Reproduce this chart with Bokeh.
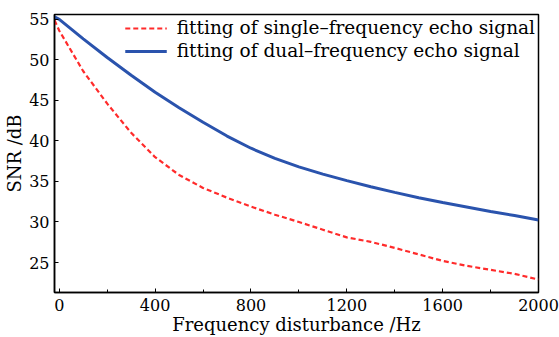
from bokeh.plotting import figure
from bokeh.models import Range1d, FixedTicker, Legend, LegendItem
from bokeh.embed import file_html
from bokeh.resources import INLINE

freq = [-20, 0, 100, 200, 300, 400, 500, 600, 700, 800, 900, 1000, 1100, 1200,
        1300, 1400, 1500, 1600, 1700, 1800, 1900, 2000]
snr_single = [54.9, 53.6, 48.6, 44.6, 41.0, 38.0, 35.8, 34.2, 33.0, 31.9, 30.9, 30.0,
              29.05, 28.1, 27.55, 26.8, 26.0, 25.2, 24.6, 24.1, 23.6, 22.9]
snr_dual = [55.3, 55.0, 52.6, 50.3, 48.1, 46.0, 44.1, 42.3, 40.6, 39.1, 37.85, 36.8,
            35.9, 35.1, 34.35, 33.65, 33.0, 32.4, 31.85, 31.3, 30.8, 30.25]
x_ticks = [0, 400, 800, 1200, 1600, 2000]
x_minor = [0, 200, 400, 600, 800, 1000, 1200, 1400, 1600, 1800, 2000]
y_ticks = [25, 30, 35, 40, 45, 50, 55]

FONT = "DejaVu Serif"
FS_TICK = "16px"
FS_TEXT = "18px"

p = figure(width=559, height=337, output_backend="svg", toolbar_location=None,
           x_range=Range1d(-20, 2000), y_range=Range1d(21.3, 55.6),
           min_border_left=54, min_border_right=21, min_border_top=14, min_border_bottom=45)
p.frame_width = 484
p.frame_height = 278
p.grid.visible = False
p.outline_line_color = "black"
p.outline_line_width = 1.5
p.background_fill_color = "white"
p.border_fill_color = "white"

r1 = p.line(freq, snr_single, line_color="#ff2b2b", line_width=2.2, line_dash="5 3")
r2 = p.line(freq, snr_dual, line_color="#2a53ad", line_width=3)

legend = Legend(items=[LegendItem(label="fitting of single\u2013frequency echo signal", renderers=[r1]),
                       LegendItem(label="fitting of dual\u2013frequency echo signal", renderers=[r2])],
                location="top_right", border_line_color=None, background_fill_alpha=0,
                label_text_font=FONT, label_text_font_size="18.5px", label_text_color="black",
                glyph_width=42, glyph_height=18, spacing=2, padding=0, margin=3,
                label_standoff=10, label_height=18)
p.add_layout(legend)

xa = p.xaxis[0]
xa.ticker = FixedTicker(ticks=x_ticks, minor_ticks=x_minor)
xa.axis_label = "Frequency disturbance /Hz"
ya = p.yaxis[0]
ya.ticker = FixedTicker(ticks=y_ticks, minor_ticks=[])
ya.axis_label = "SNR /dB"

for ax in (xa, ya):
    ax.axis_line_width = 1.5
    ax.axis_line_color = "black"
    ax.major_tick_in = 4
    ax.major_tick_out = 0
    ax.minor_tick_in = 3
    ax.minor_tick_out = 0
    ax.major_tick_line_color = "black"
    ax.minor_tick_line_color = "black"
    ax.major_label_text_font = FONT
    ax.major_label_text_font_size = FS_TICK
    ax.major_label_text_color = "black"
    ax.axis_label_text_font = FONT
    ax.axis_label_text_font_size = FS_TEXT
    ax.axis_label_text_font_style = "normal"
    ax.axis_label_text_color = "black"
xa.major_label_standoff = 6
xa.axis_label_standoff = 0
ya.major_label_standoff = 5
ya.axis_label_standoff = 1

out = file_html(p, INLINE)
open("out.html", "w").write(out)
